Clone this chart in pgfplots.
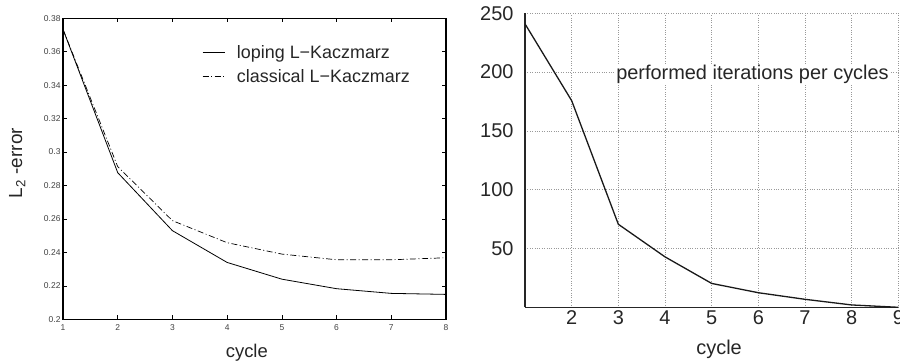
\documentclass[border=0pt]{standalone}
\usepackage{fontspec}
\setmainfont{Liberation Sans}
\usepackage{pgfplots}
\pgfplotsset{compat=1.18}
\begin{document}
\begin{tikzpicture}[x=1bp,y=1bp]
\useasboundingbox (0,0) rectangle (900,362);
\begin{axis}[
  at={(63bp,42.7bp)}, anchor=south west,
  scale only axis, width=383bp, height=301bp,
  xmin=1, xmax=8, ymin=0.2, ymax=0.38,
  xtick={1,2,3,4,5,6,7,8},
  xticklabels={1,2,3,4,5,6,7,8},
  ytick={0.2,0.22,0.24,0.26,0.28,0.3,0.32,0.34,0.36,0.38},
  yticklabels={0.2,0.22,0.24,0.26,0.28,0.3,0.32,0.34,0.36,0.38},
  tick label style={font=\fontsize{8.5}{9}\selectfont, text=black!75},
  xticklabel style={yshift=-1.5bp},
  yticklabel style={xshift=1bp},
  tick align=inside, tick pos=both, major tick length=4bp,
  tick style={line width=0.6bp, black},
  axis line style={line width=1.1bp},
  xlabel={cycle},
  xlabel style={at={(axis description cs:0.48,0)}, anchor=base, yshift=-37.7bp, font=\fontsize{18.5}{22}\selectfont, text=black!85},
  ylabel={L\textsubscript{2} -error},
  ylabel style={at={(axis description cs:-0.107,0.519)}, anchor=base, font=\fontsize{19}{22}\selectfont, text=black!85},
  legend cell align=left,
  legend style={at={(axis description cs:0.355,0.925)}, anchor=north west, draw=none, fill=none,
    font=\fontsize{18}{22}\selectfont, text=black!85, row sep=6bp},
  legend image code/.code={\draw[#1] (0bp,0bp) -- (22bp,0bp);},
]
\addplot[black, line width=0.8bp] coordinates {
(1,0.3734) (2,0.2877) (3,0.2530) (4,0.2340) (5,0.2240) (6,0.2183) (7,0.2155) (8,0.2149)};
\addlegendentry{\hspace*{10bp}loping L\textminus Kaczmarz}
\addplot[black, line width=0.7bp, dash pattern=on 6bp off 2.5bp on 1bp off 2.5bp] coordinates {
(1,0.3734) (2,0.2913) (3,0.2590) (4,0.2458) (5,0.2390) (6,0.2356) (7,0.2356) (8,0.2368)};
\addlegendentry{\hspace*{10bp}classical L\textminus Kaczmarz}
\end{axis}

\begin{axis}[
  at={(525bp,54.7bp)}, anchor=south west,
  scale only axis, width=373.3bp, height=294bp,
  xmin=1, xmax=9, ymin=0, ymax=250,
  xtick={2,3,4,5,6,7,8,9},
  xticklabels={2,3,4,5,6,7,8,9},
  ytick={50,100,150,200,250},
  yticklabels={50,100,150,200,250},
  axis x line*=bottom, axis y line*=left,
  axis line style={line width=1.4bp, black!85, -},
  tick style={draw=none},
  grid=major,
  grid style={dotted, black!40, line width=0.5bp},
  tick label style={font=\fontsize{20}{23}\selectfont, text=black!85},
  yticklabel style={xshift=-8bp},
  xlabel={cycle},
  xlabel style={at={(axis description cs:0.52,0)}, anchor=base, yshift=-46.7bp, font=\fontsize{20}{23}\selectfont, text=black!85},
]
\addplot[black!90, line width=1.3bp] coordinates {
(1,241) (2,175.7) (3,70.6) (4,42.9) (5,20.3) (6,12.4) (7,6.8) (8,2) (9,0)};
\node[anchor=base west, fill=white, inner sep=1bp, font=\fontsize{20}{23}\selectfont, text=black!85] at (axis cs:2.93,193.3) {performed iterations per cycles};
\end{axis}
\end{tikzpicture}
\end{document}
